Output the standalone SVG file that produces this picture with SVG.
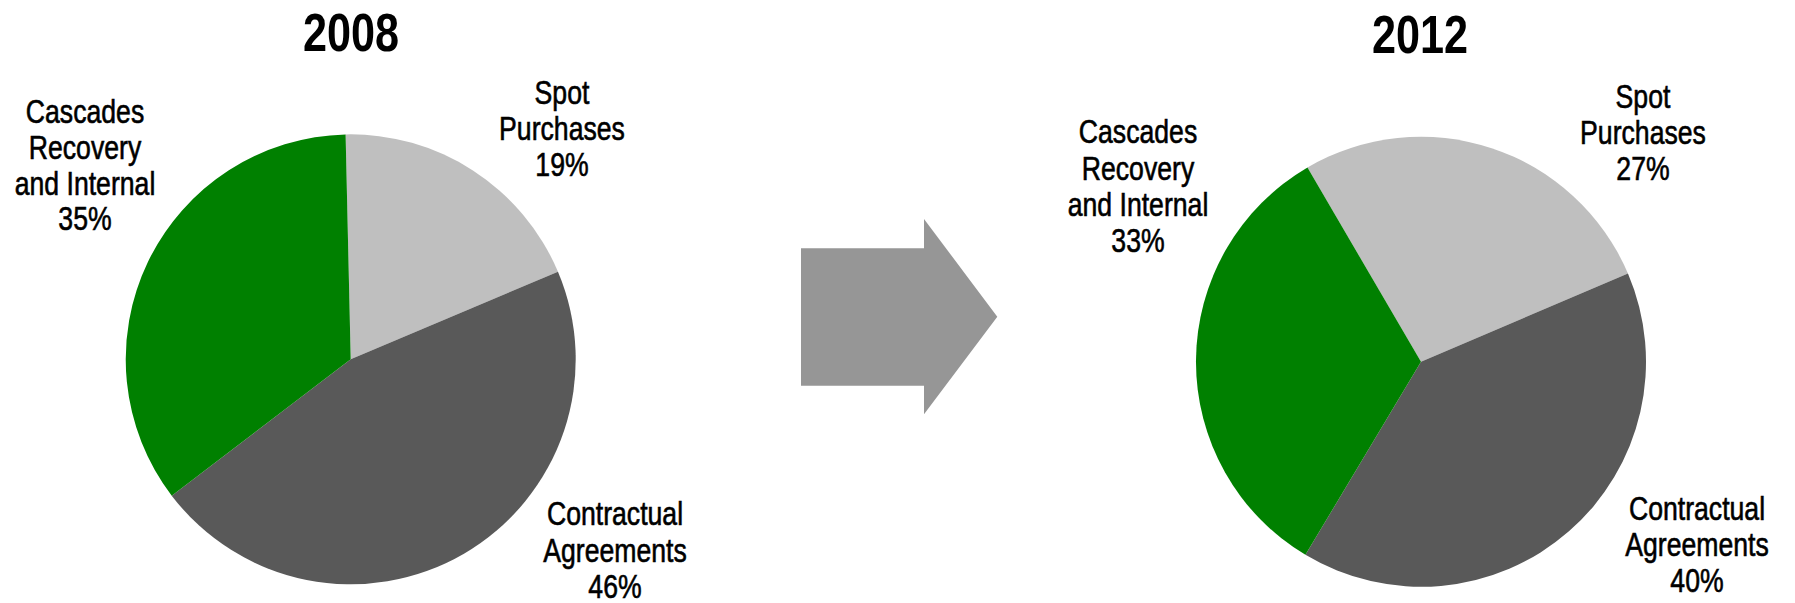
<svg xmlns="http://www.w3.org/2000/svg" width="1795" height="603" viewBox="0 0 1795 603">
<style>
.t{font-family:"Liberation Sans",Arial,sans-serif;fill:#000;text-anchor:middle}
.title{font-size:54px;font-weight:bold}
.lbl{font-size:32.5px;stroke:#000;stroke-width:0.6px}
.spot{fill:#BFBFBF}
.contr{fill:#595959}
.casc{fill:#008000}
</style>
<rect x="0" y="0" width="1795" height="603" fill="#FFFFFF"/>
<g id="pie2008">
<path class="spot" d="M350.7 359.3 L345.6 134.4 A225 225 0 0 1 557.97 271.75 Z"/>
<path class="contr" d="M350.7 359.3 L557.97 271.75 A225 225 0 0 1 171.72 495.65 Z"/>
<path class="casc" d="M350.7 359.3 L171.72 495.65 A225 225 0 0 1 345.6 134.4 Z"/>
<g transform="translate(351 0) scale(0.8 1)"><text class="t title" x="0" y="51">2008</text></g>
</g>
<g id="label2008-casc" transform="translate(85 0) scale(0.82 1)">
<text class="t lbl"><tspan x="0" y="123">Cascades</tspan><tspan x="0" y="159">Recovery</tspan><tspan x="0" y="195">and Internal</tspan><tspan x="0" y="230">35%</tspan></text>
</g>
<g id="label2008-spot" transform="translate(562 0) scale(0.82 1)">
<text class="t lbl"><tspan x="0" y="104">Spot</tspan><tspan x="0" y="140">Purchases</tspan><tspan x="0" y="176">19%</tspan></text>
</g>
<g id="label2008-contr" transform="translate(615 0) scale(0.82 1)">
<text class="t lbl"><tspan x="0" y="525">Contractual</tspan><tspan x="0" y="562">Agreements</tspan><tspan x="0" y="598">46%</tspan></text>
</g>
<g id="connectors">
<polygon id="arrow" fill="#969696" points="801,248.3 924,248.3 924,219 997.3,316.7 924,414.3 924,385.7 801,385.7"/>
</g>
<g id="pie2012">
<path class="spot" d="M1421 361.8 L1307.48 167.53 A225 225 0 0 1 1627.96 273.52 Z"/>
<path class="contr" d="M1421 361.8 L1627.96 273.52 A225 225 0 0 1 1305.44 554.86 Z"/>
<path class="casc" d="M1421 361.8 L1305.44 554.86 A225 225 0 0 1 1307.48 167.53 Z"/>
<g transform="translate(1420 0) scale(0.8 1)"><text class="t title" x="0" y="53">2012</text></g>
</g>
<g id="label2012-casc" transform="translate(1138 0) scale(0.82 1)">
<text class="t lbl"><tspan x="0" y="143">Cascades</tspan><tspan x="0" y="180">Recovery</tspan><tspan x="0" y="216">and Internal</tspan><tspan x="0" y="252">33%</tspan></text>
</g>
<g id="label2012-spot" transform="translate(1643 0) scale(0.82 1)">
<text class="t lbl"><tspan x="0" y="108">Spot</tspan><tspan x="0" y="144">Purchases</tspan><tspan x="0" y="180">27%</tspan></text>
</g>
<g id="label2012-contr" transform="translate(1697 0) scale(0.82 1)">
<text class="t lbl"><tspan x="0" y="520">Contractual</tspan><tspan x="0" y="556">Agreements</tspan><tspan x="0" y="592">40%</tspan></text>
</g>
</svg>
